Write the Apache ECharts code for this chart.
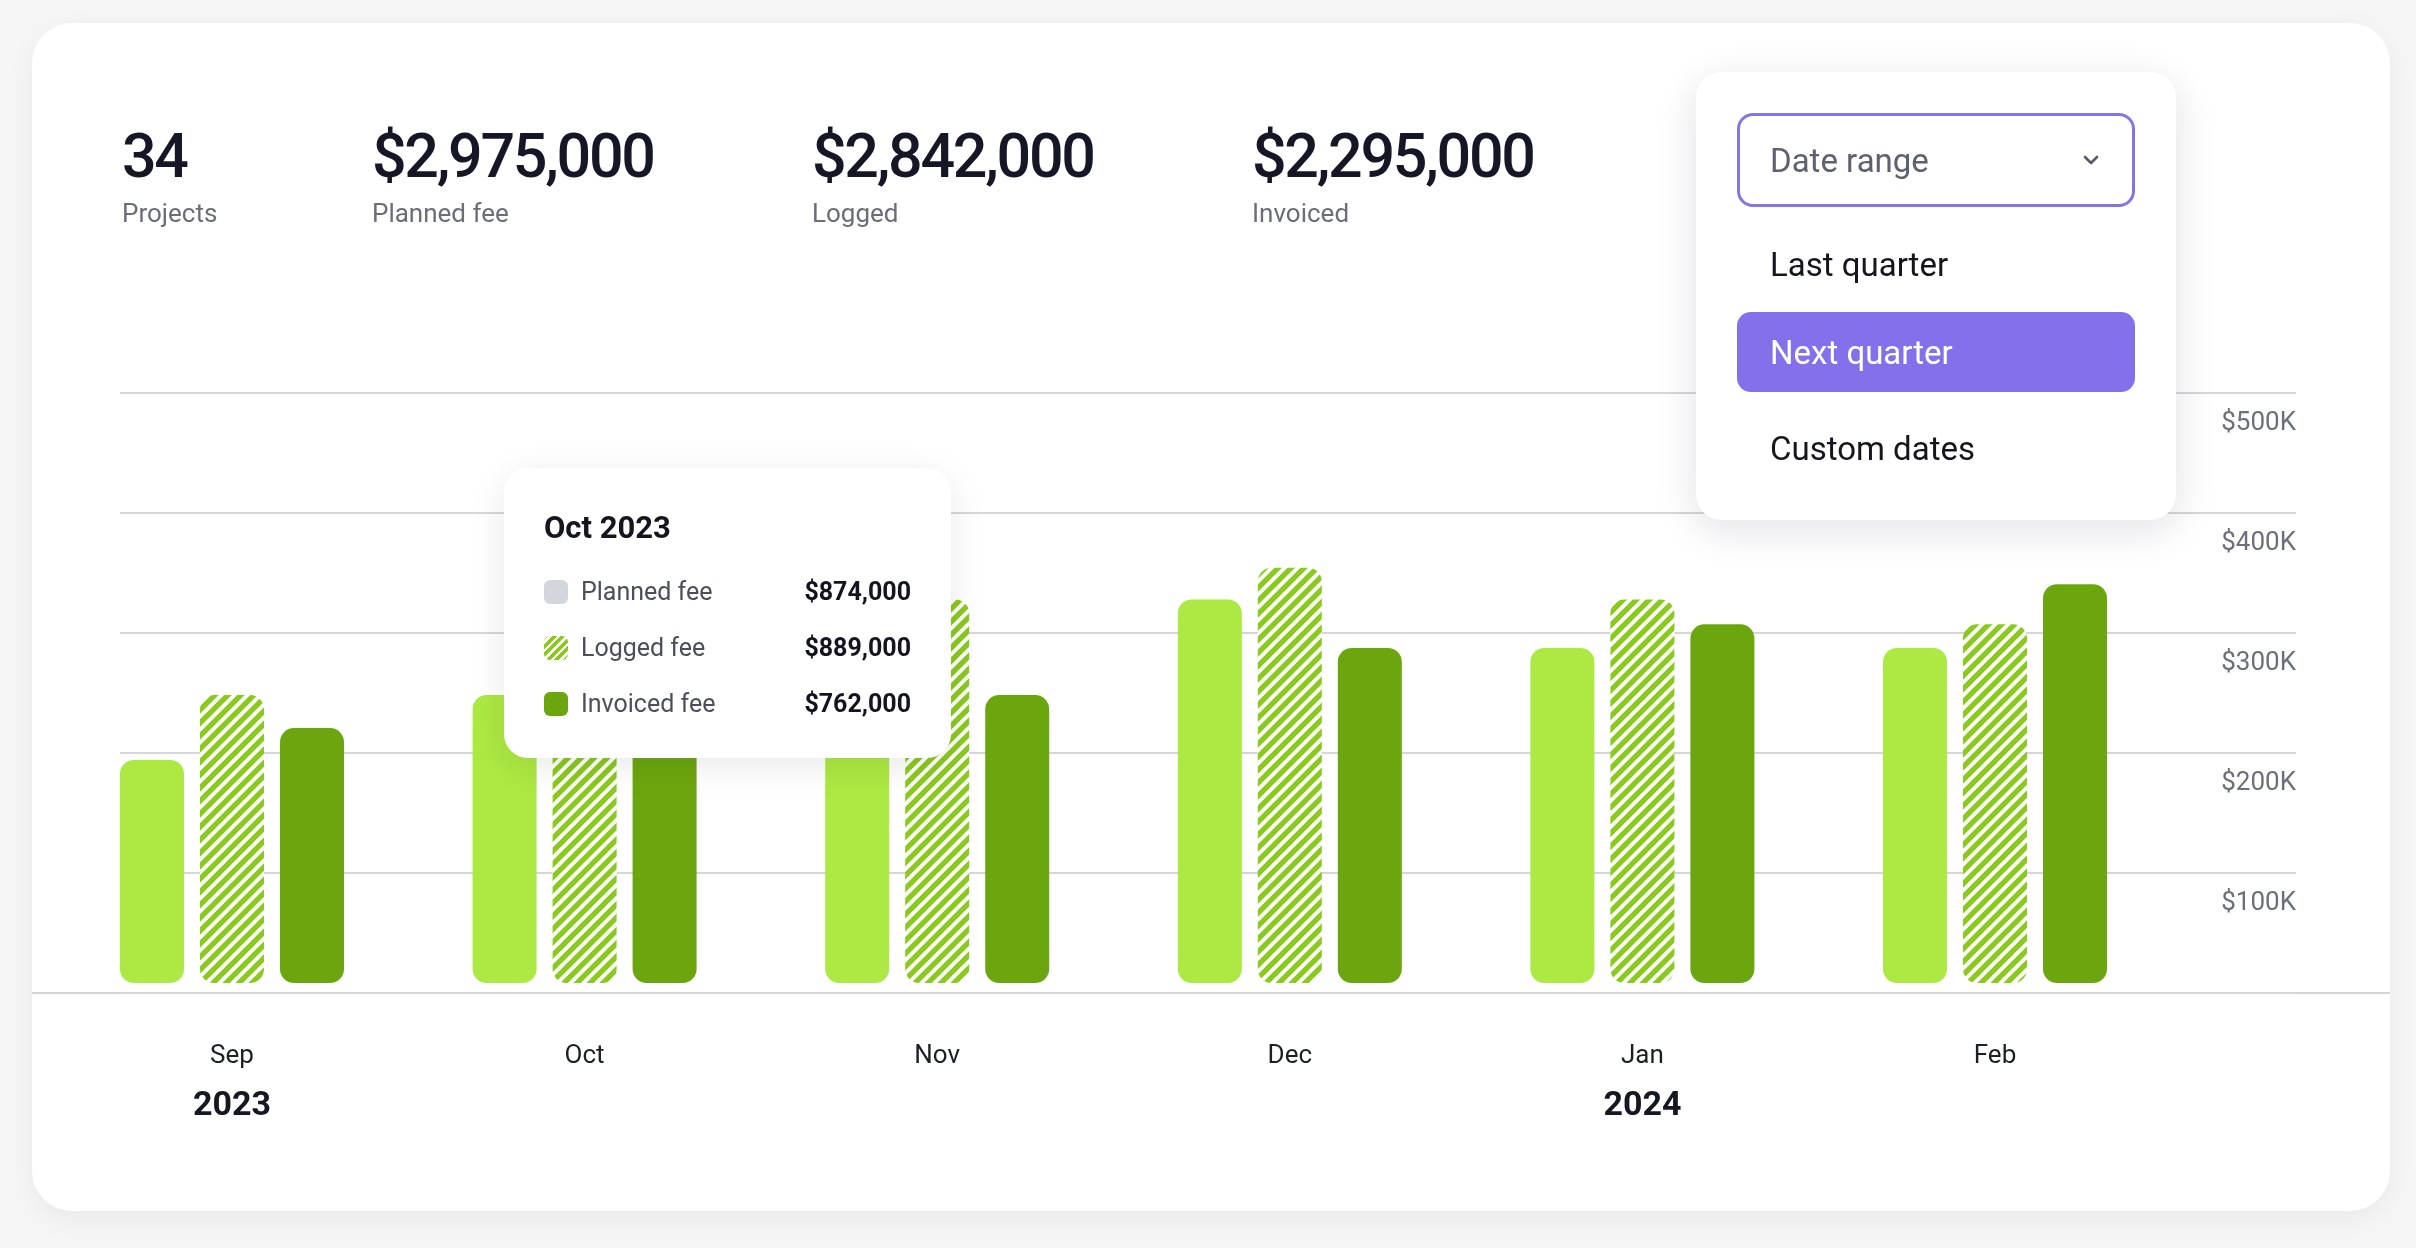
<!DOCTYPE html>
<html>
<head>
<meta charset="utf-8">
<script src="https://cdn.jsdelivr.net/npm/echarts@6/dist/echarts.min.js"></script>
<style>
  html, body { margin: 0; padding: 0; width: 2416px; height: 1248px; overflow: hidden; background: #f6f6f7; font-family: Roboto, 'Noto Sans', sans-serif; }
  .card { position: absolute; left: 32px; top: 23px; width: 2358px; height: 1188px; background: #fff; border-radius: 40px; box-shadow: 0 8px 30px rgba(0,0,0,0.06); }
  #chart { position: absolute; left: 0; top: 0; width: 2416px; height: 1248px; }
  .stat { position: absolute; top: 120px; }
  .stat .num { font-size: 61px; font-weight: 500; color: #151726; letter-spacing: -2.3px; line-height: 72px; white-space: nowrap; }
  .stat .lbl { font-size: 26px; color: #6b6e78; line-height: 34px; margin-top: 4px; }
  .dd { position: absolute; left: 1696px; top: 72px; width: 480px; height: 448px; background: #fff; border-radius: 26px; box-shadow: 0 10px 40px rgba(20,20,40,0.12); }
  .dd .sel { position: absolute; left: 41px; top: 41px; width: 398px; height: 94px; box-sizing: border-box; border: 3px solid #8474e8; border-radius: 16px; }
  .dd .sel span { position: absolute; left: 30px; top: 1px; line-height: 88px; font-size: 33px; color: #5d6170; }
  .dd .sel svg { position: absolute; left: 342px; top: 38px; }
  .dd .opt { position: absolute; left: 41px; width: 398px; height: 80px; box-sizing: border-box; padding-left: 33px; line-height: 82px; font-size: 33px; color: #14151d; border-radius: 14px; }
  .dd .opt.on { background: #8470ea; color: #fff; }
</style>
</head>
<body>
<div class="card"></div>
<div id="chart"></div>
<div id="stats"></div>
<div class="dd" id="dd">
  <div class="sel"><span>Date range</span>
    <svg width="18" height="12" viewBox="0 0 18 12"><polyline points="3,3 9,9 15,3" fill="none" stroke="#555a66" stroke-width="2.6" stroke-linecap="round" stroke-linejoin="round"/></svg>
  </div>
</div>
<script>
  // data (values in $)
  var months = ['Sep', 'Oct', 'Nov', 'Dec', 'Jan', 'Feb'];
  var monthYears = ['2023', '2023', '2023', '2023', '2024', '2024'];
  var seriesNames = ['Planned fee', 'Logged fee', 'Invoiced fee'];
  var planned = [189000, 244000, 285000, 325000, 284000, 284000];
  var logged = [244000, 252000, 325000, 352000, 325000, 304000];
  var invoiced = [216000, 216000, 244000, 284000, 304000, 338000];
  var yTicks = [100000, 200000, 300000, 400000, 500000];
  var yTickLabels = ['$100K', '$200K', '$300K', '$400K', '$500K'];
  var tipIndex = 1;
  var tipValues = [874000, 889000, 762000];
  var statValues = ['34', '$2,975,000', '$2,842,000', '$2,295,000'];
  var statLabels = ['Projects', 'Planned fee', 'Logged', 'Invoiced'];
  var rangeOptions = ['Last quarter', 'Next quarter', 'Custom dates'];
  var selectedOption = 1;

  var cPlanned = '#ace942';
  var cStripe = '#8aca1c';
  var cInvoiced = '#6ca60f';

  // header stats
  var statLeft = [122, 372, 812, 1252];
  var statsEl = document.getElementById('stats');
  statValues.forEach(function (v, i) {
    var d = document.createElement('div');
    d.className = 'stat';
    d.style.left = statLeft[i] + 'px';
    d.innerHTML = '<div class="num">' + v + '</div><div class="lbl">' + statLabels[i] + '</div>';
    statsEl.appendChild(d);
  });

  // dropdown
  var optTop = [152, 240, 336];
  var dd = document.getElementById('dd');
  rangeOptions.forEach(function (o, i) {
    var d = document.createElement('div');
    d.className = 'opt' + (i === selectedOption ? ' on' : '');
    d.style.top = optTop[i] + 'px';
    d.textContent = o;
    dd.appendChild(d);
  });

  function stripePattern(color) {
    var size = 13;
    var c = document.createElement('canvas');
    c.width = size; c.height = size;
    var ctx = c.getContext('2d');
    ctx.fillStyle = '#fff';
    ctx.fillRect(0, 0, size, size);
    ctx.strokeStyle = color;
    ctx.lineWidth = 5.4;
    ctx.beginPath();
    ctx.moveTo(-4, 4); ctx.lineTo(4, -4);
    ctx.moveTo(-1, size + 1); ctx.lineTo(size + 1, -1);
    ctx.moveTo(size - 4, size + 4); ctx.lineTo(size + 4, size - 4);
    ctx.stroke();
    return c;
  }

  function fmt(v) { return '$' + v.toLocaleString('en-US'); }

  var swatches = [
    'background:#d3d7dd;',
    'background:repeating-linear-gradient(135deg,' + cStripe + ' 0 3.4px,#fff 3.4px 6px);',
    'background:' + cInvoiced + ';'
  ];

  function tipHtml() {
    var i = tipIndex;
    var h = '<div style="position:relative;width:447px;height:290px;font-family:Roboto,sans-serif;">';
    h += '<div style="position:absolute;left:40px;top:37px;font-size:31px;font-weight:700;line-height:46px;color:#14151f;">' +
      months[i] + ' ' + monthYears[i] + '</div>';
    var rowC = [124, 180, 236];
    seriesNames.forEach(function (n, k) {
      h += '<div style="position:absolute;left:40px;top:' + (rowC[k] - 12) + 'px;width:24px;height:24px;border-radius:6px;' + swatches[k] + '"></div>';
      h += '<div style="position:absolute;left:77px;top:' + (rowC[k] - 20) + 'px;line-height:40px;font-size:25px;color:#4b4f5c;">' + n + '</div>';
      h += '<div style="position:absolute;right:40px;top:' + (rowC[k] - 20) + 'px;line-height:40px;font-size:25px;font-weight:700;color:#13141f;">' + fmt(tipValues[k]) + '</div>';
    });
    return h + '</div>';
  }

  var chart = echarts.init(document.getElementById('chart'));
  var barBase = { type: 'bar', xAxisIndex: 0, yAxisIndex: 0, barWidth: 64, barGap: '25%', clip: false };

  chart.setOption({
    animation: false,
    backgroundColor: 'transparent',
    textStyle: { fontFamily: 'Roboto, sans-serif' },
    tooltip: {
      trigger: 'item',
      triggerOn: 'none',
      alwaysShowContent: true,
      transitionDuration: 0,
      padding: 0,
      borderWidth: 0,
      backgroundColor: '#fff',
      extraCssText: 'border-radius:24px;box-shadow:0 8px 36px rgba(0,0,0,0.09);',
      position: function () { return [504, 468]; },
      formatter: tipHtml
    },
    grid: [
      { left: 55.7, width: 2115.6, top: 393, bottom: 265, outerBoundsMode: 'none' },
      { left: 120, right: 120, top: 393, bottom: 255, outerBoundsMode: 'none' }
    ],
    xAxis: [
      {
        type: 'category', gridIndex: 0, data: months,
        axisLine: { show: false }, axisTick: { show: false }, splitLine: { show: false },
        axisLabel: {
          interval: 0, margin: 53,
          formatter: function (v, i) {
            var showYear = i === 0 || monthYears[i] !== monthYears[i - 1];
            return showYear ? '{m|' + v + '}\n{y|' + monthYears[i] + '}' : '{m|' + v + '}';
          },
          rich: {
            m: { fontSize: 26, lineHeight: 40, color: '#1d1f27', fontFamily: 'Roboto' },
            y: { fontSize: 34, lineHeight: 60, fontWeight: 'bold', color: '#151722', fontFamily: 'Roboto' }
          }
        }
      },
      { type: 'category', gridIndex: 1, data: months, show: false }
    ],
    yAxis: [
      { type: 'value', gridIndex: 0, min: 0, max: 500000, show: false, splitLine: { show: false } },
      {
        type: 'value', gridIndex: 1, position: 'right', min: 0, max: 500000, interval: 100000,
        axisLine: { show: false }, axisTick: { show: false },
        splitLine: { show: true, lineStyle: { color: '#d6d6d9', width: 2 } },
        axisLabel: {
          inside: true, margin: 0, verticalAlign: 'top', lineHeight: 60,
          fontSize: 26, color: '#6c6f7b', fontFamily: 'Roboto',
          formatter: function (v) {
            var k = yTicks.indexOf(v);
            return k >= 0 ? yTickLabels[k] : '';
          }
        }
      }
    ],
    graphic: [{
      type: 'line', silent: true,
      shape: { x1: 32, y1: 993, x2: 2390, y2: 993 },
      style: { stroke: '#d4d4d7', lineWidth: 2 }
    }],
    series: [
      Object.assign({}, barBase, { name: seriesNames[0], data: planned, itemStyle: { color: cPlanned, borderRadius: 14 } }),
      Object.assign({}, barBase, { name: seriesNames[1], data: logged, itemStyle: { color: { image: stripePattern(cStripe), repeat: 'repeat' }, borderRadius: 14 } }),
      Object.assign({}, barBase, { name: seriesNames[2], data: invoiced, itemStyle: { color: cInvoiced, borderRadius: 14 } })
    ]
  });

  chart.dispatchAction({ type: 'showTip', seriesIndex: 0, dataIndex: tipIndex });
  window.addEventListener('resize', function () { chart.resize(); });
</script>
</body>
</html>
